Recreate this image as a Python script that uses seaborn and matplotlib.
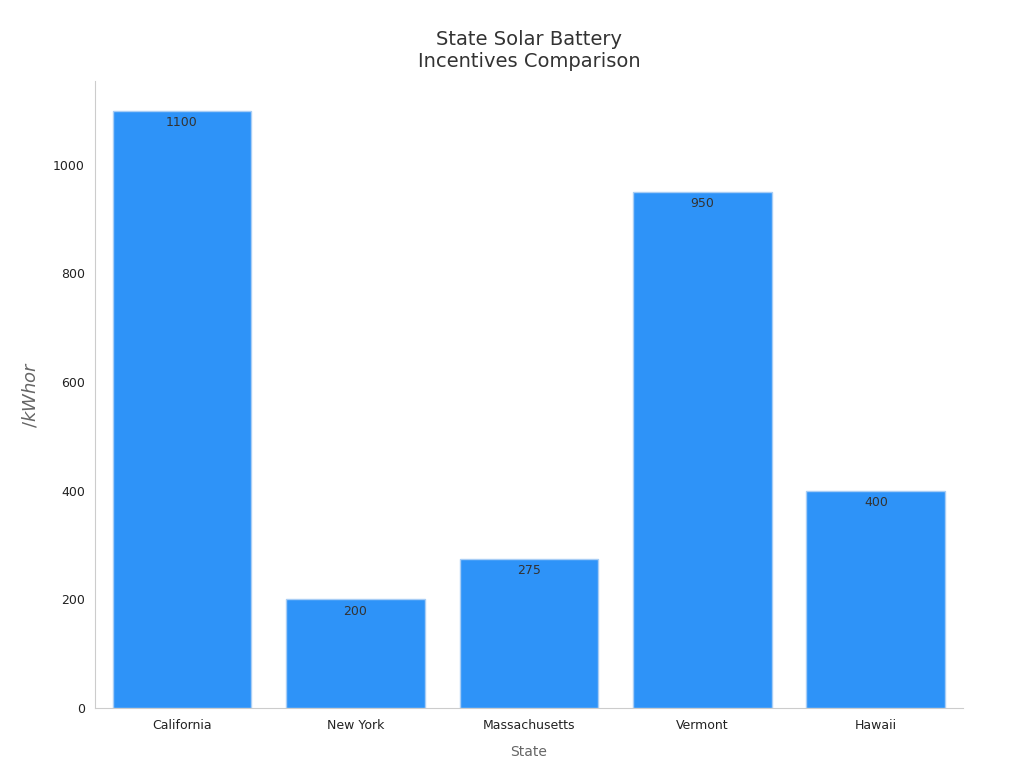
import matplotlib
matplotlib.use("Agg")
import matplotlib.pyplot as plt
import seaborn as sns
import pandas as pd

states = ["California", "New York", "Massachusetts", "Vermont", "Hawaii"]
incentives = [1100, 200, 275, 950, 400]

df = pd.DataFrame({"State": states, "Incentive": incentives})

sns.set_style("white")
plt.rcParams['font.family'] = ['DejaVu Sans']

fig, ax = plt.subplots(figsize=(10.24, 7.68), dpi=100)
sns.barplot(data=df, x="State", y="Incentive", color="#2E93F8", saturation=1,
            edgecolor="#a8cdf5", linewidth=1, width=0.8, ax=ax)

for c in ax.containers:
    ax.bar_label(c, labels=[str(v) for v in incentives], padding=-13,
                 fontsize=9, color="#333333")

ax.set_title("State Solar Battery\nIncentives Comparison", fontsize=14,
             color="#333333", pad=10)
ax.set_xlabel("State", fontsize=10, color="#666666", labelpad=10)
ax.set_ylabel("$/kWh or $", fontsize=13, color="#666666", labelpad=10)
ax.tick_params(axis="both", labelsize=9, colors="#222222", length=4)
ax.tick_params(axis="both", color="#999999")
for s in ["top", "right"]:
    ax.spines[s].set_visible(False)
for s in ["left", "bottom"]:
    ax.spines[s].set_color("#cccccc")
ax.set_ylim(0, 1155)
ax.set_yticks([0, 200, 400, 600, 800, 1000])

plt.subplots_adjust(left=0.093, right=0.94, top=0.895, bottom=0.078)
fig.savefig("out.png", dpi=100)
